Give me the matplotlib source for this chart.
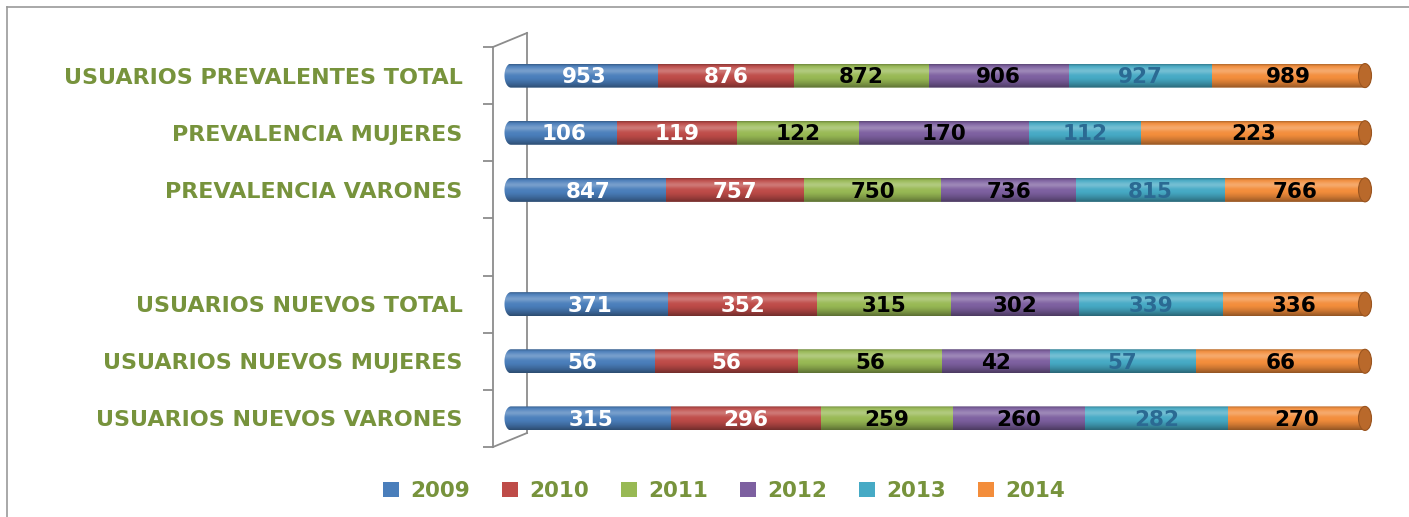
import numpy as np
import matplotlib
matplotlib.use("Agg")
import matplotlib.pyplot as plt
from matplotlib.patches import Polygon, Ellipse, Patch
from matplotlib.lines import Line2D

categories = [
    "USUARIOS PREVALENTES TOTAL",
    "PREVALENCIA MUJERES",
    "PREVALENCIA VARONES",
    "",
    "USUARIOS NUEVOS TOTAL",
    "USUARIOS NUEVOS MUJERES",
    "USUARIOS NUEVOS VARONES",
]
years = ["2009", "2010", "2011", "2012", "2013", "2014"]
v2009 = [953, 106, 847, 0, 371, 56, 315]
v2010 = [876, 119, 757, 0, 352, 56, 296]
v2011 = [872, 122, 750, 0, 315, 56, 259]
v2012 = [906, 170, 736, 0, 302, 42, 260]
v2013 = [927, 112, 815, 0, 339, 57, 282]
v2014 = [989, 223, 766, 0, 336, 66, 270]

series = [v2009, v2010, v2011, v2012, v2013, v2014]
colors = ["#4A7EBB", "#BE4B48", "#98B954", "#7D60A0", "#46AAC5", "#F38D3B"]
text_colors = ["white", "white", "black", "black", "#2B6A93", "black"]
green = "#77933C"
gray = "#8C8C8C"

W, H = 1409, 517
fig = plt.figure(figsize=(W / 100, H / 100), dpi=100)
ax_l, ax_r, ax_t, ax_b = 493, 1375, 47, 447
ax = fig.add_axes([ax_l / W, 1 - ax_b / H, (ax_r - ax_l) / W, (ax_b - ax_t) / H])

scale = 854.0
x0 = -(511 - ax_l) / scale
x1 = (ax_r - 511) / scale

rx = 6.5 / scale
bh = 0.42
ry = bh / 2

data = np.array(series, dtype=float)
totals = data.sum(axis=0)

# vertical shading for the cylinder look (top -> bottom)
prof = np.linspace(0, 1, 60)
shade = np.zeros((60, 1, 4))
white_a = 0.25 * np.exp(-((prof - 0.28) / 0.14) ** 2)
black_a = 0.40 * np.clip((prof - 0.55) / 0.45, 0, 1) ** 1.4 + 0.25 * np.exp(-(prof / 0.06) ** 2)
shade[:, 0, :3] = (white_a / (white_a + black_a + 1e-9))[:, None]
shade[:, 0, 3] = np.clip(white_a + black_a, 0, 1)

for i, cat in enumerate(categories):
    if totals[i] == 0:
        continue
    t = np.linspace(np.pi / 2, 3 * np.pi / 2, 40)
    left = np.column_stack([rx * np.cos(t), i - ry * np.sin(t)])
    t2 = np.linspace(-np.pi / 2, np.pi / 2, 40)
    right = np.column_stack([1 + rx * np.cos(t2), i - ry * np.sin(t2)])
    sil = Polygon(np.vstack([left, right]), closed=True, transform=ax.transData)

    frac = data[:, i] / totals[i]
    start = 0.0
    for k in range(len(series)):
        lo = start - (rx if k == 0 else 0)
        w = frac[k] + (rx if k == 0 else 0) + (rx if k == len(series) - 1 else 0)
        b = ax.barh(i, w, left=lo, height=bh, color=colors[k], linewidth=0, zorder=2)
        for p in b:
            p.set_clip_path(sil)
        ax.text(start + frac[k] / 2, i + 0.03, f"{int(data[k, i])}", ha="center", va="center",
                fontsize=15.5, fontweight="bold", color=text_colors[k], zorder=6)
        start += frac[k]

    im = ax.imshow(shade, extent=(x0, x1, i + ry, i - ry), origin="upper", aspect="auto",
                   interpolation="bilinear", zorder=3)
    im.set_clip_path(sil)
    cap = Ellipse((1, i), 2 * rx, bh, facecolor="#B9692B", edgecolor="#9A5520", lw=0.8, zorder=4)
    ax.add_patch(cap)

ax.set_xlim(x0, x1)
ax.set_ylim(len(categories) - 0.5, -0.5)

# axis and 3D wall
for s in ["top", "right", "bottom"]:
    ax.spines[s].set_visible(False)
ax.spines["left"].set_color(gray)
ax.spines["left"].set_linewidth(1.3)
ax.set_xticks([])
ax.set_yticks(range(len(categories)))
ax.set_yticklabels(categories, fontsize=16, fontweight="bold", color=green, family="DejaVu Sans")
ax.tick_params(axis="y", which="major", length=0, pad=22)
ax.set_yticks(np.arange(-0.5, len(categories), 1.0), minor=True)
ax.tick_params(axis="y", which="minor", length=7.5, width=1.3, color=gray)

dx, dy = 34 / (ax_r - ax_l), 14 / (ax_b - ax_t)
for seg in [([0, dx], [1, 1 + dy]), ([dx, dx], [1 + dy, dy]), ([0, dx], [0, dy])]:
    ax.add_line(Line2D(seg[0], seg[1], transform=ax.transAxes, color=gray, lw=1.3,
                       clip_on=False, zorder=1))

handles = [Patch(facecolor=c, edgecolor="none") for c in colors]
leg = fig.legend(handles, years, loc="center", bbox_to_anchor=(724 / W, 1 - 491 / H), ncol=6,
                 frameon=False, handlelength=0.75, handleheight=0.75, handletextpad=0.5,
                 columnspacing=1.5, prop={"size": 15.5, "weight": "bold"})
for txt in leg.get_texts():
    txt.set_color(green)

# outer chart frame
fig.add_artist(Line2D([7 / W, 1], [1 - 7 / H, 1 - 7 / H], transform=fig.transFigure, color="#9A9A9A", lw=1.2))
fig.add_artist(Line2D([7 / W, 7 / W], [0, 1 - 7 / H], transform=fig.transFigure, color="#9A9A9A", lw=1.2))

fig.savefig("out.png", dpi=100)
